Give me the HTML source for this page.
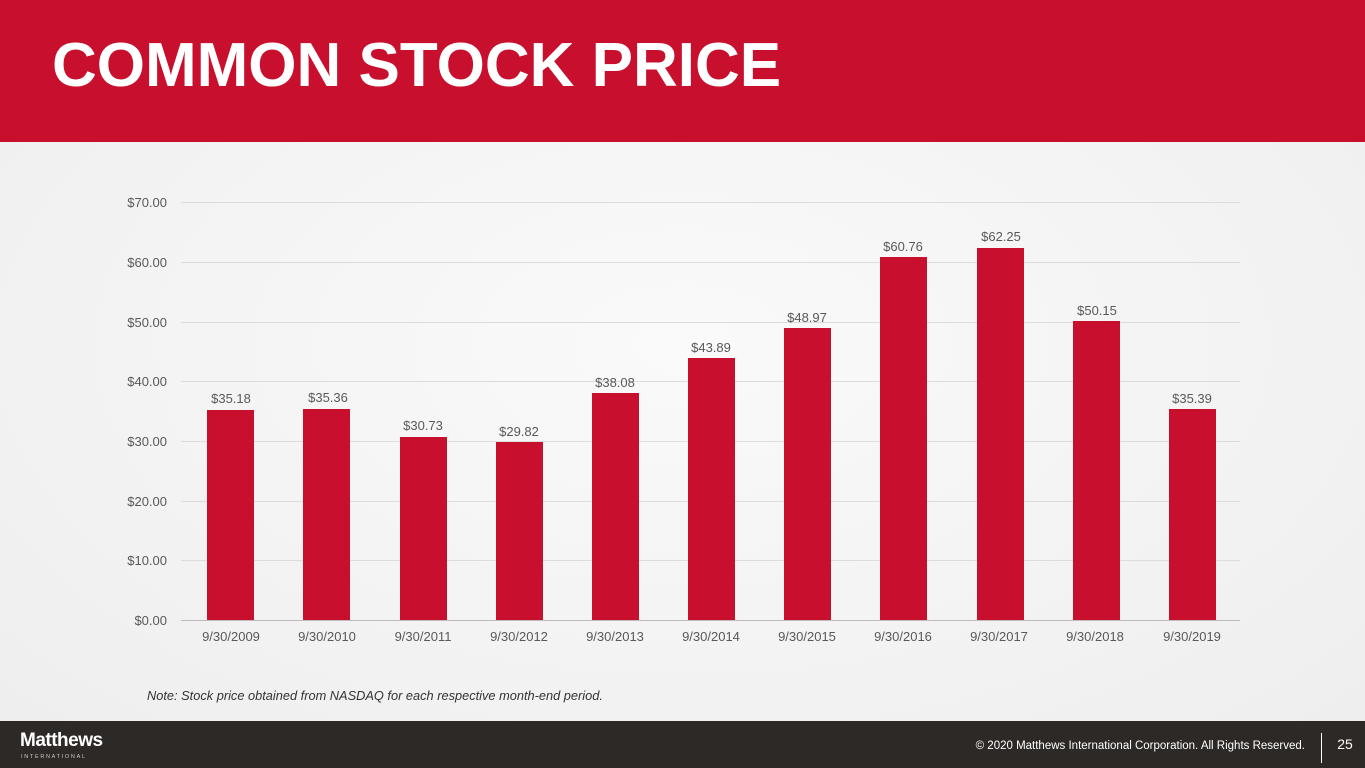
<!DOCTYPE html>
<html><head><meta charset="utf-8"><style>
html,body{margin:0;padding:0;width:1365px;height:768px;overflow:hidden;background:#f4f4f4;font-family:"Liberation Sans",Arial,sans-serif}
</style></head><body>
<svg width="1365" height="768" viewBox="0 0 1365 768" xmlns="http://www.w3.org/2000/svg" font-family="Liberation Sans, Arial, sans-serif">
<defs><radialGradient id="bg" cx="0.5" cy="0.45" r="0.7"><stop offset="0" stop-color="#fafafa"/><stop offset="1" stop-color="#eeeeee"/></radialGradient></defs>
<rect x="0" y="0" width="1365" height="768" fill="url(#bg)"/>
<rect x="0" y="0" width="1365" height="142" fill="#c8102e"/>
<text x="52" y="86" font-size="62" font-weight="bold" fill="#fff">COMMON STOCK PRICE</text>
<g stroke="#dcdcdc" stroke-width="1">
<line x1="181" x2="1240" y1="202.5" y2="202.5"/><line x1="181" x2="1240" y1="262.5" y2="262.5"/>
<line x1="181" x2="1240" y1="322.5" y2="322.5"/><line x1="181" x2="1240" y1="381.5" y2="381.5"/>
<line x1="181" x2="1240" y1="441.5" y2="441.5"/><line x1="181" x2="1240" y1="501.5" y2="501.5"/>
<line x1="181" x2="1240" y1="560.5" y2="560.5"/></g>
<line x1="181" x2="1240" y1="620.5" y2="620.5" stroke="#bbb"/>
<g font-size="13" fill="#595959" text-anchor="end">
<text x="167" y="207">$70.00</text><text x="167" y="267">$60.00</text><text x="167" y="327">$50.00</text>
<text x="167" y="386">$40.00</text><text x="167" y="446">$30.00</text><text x="167" y="506">$20.00</text>
<text x="167" y="565">$10.00</text><text x="167" y="625">$0.00</text></g>
<g fill="#c8102e">
<rect x="207" y="410" width="47" height="210"/><rect x="303" y="409" width="47" height="211"/>
<rect x="400" y="437" width="47" height="183"/><rect x="496" y="442" width="47" height="178"/>
<rect x="592" y="393" width="47" height="227"/><rect x="688" y="358" width="47" height="262"/>
<rect x="784" y="328" width="47" height="292"/><rect x="880" y="257" width="47" height="363"/>
<rect x="977" y="248" width="47" height="372"/><rect x="1073" y="321" width="47" height="299"/>
<rect x="1169" y="409" width="47" height="211"/></g>
<g font-size="13" fill="#595959" text-anchor="middle">
<text x="231" y="403">$35.18</text><text x="328" y="402">$35.36</text><text x="423" y="430">$30.73</text>
<text x="519" y="436">$29.82</text><text x="615" y="387">$38.08</text><text x="711" y="352">$43.89</text>
<text x="807" y="322">$48.97</text><text x="903" y="251">$60.76</text><text x="1001" y="241">$62.25</text>
<text x="1097" y="315">$50.15</text><text x="1192" y="403">$35.39</text></g>
<g font-size="13" fill="#595959" text-anchor="middle">
<text x="231" y="641">9/30/2009</text><text x="327" y="641">9/30/2010</text><text x="423" y="641">9/30/2011</text>
<text x="519" y="641">9/30/2012</text><text x="615" y="641">9/30/2013</text><text x="711" y="641">9/30/2014</text>
<text x="807" y="641">9/30/2015</text><text x="903" y="641">9/30/2016</text><text x="999" y="641">9/30/2017</text>
<text x="1095" y="641">9/30/2018</text><text x="1192" y="641">9/30/2019</text></g>
<text x="147" y="700" font-size="12.8" font-style="italic" fill="#333">Note: Stock price obtained from NASDAQ for each respective month-end period.</text>
<rect x="0" y="721" width="1365" height="47" fill="#2d2926"/>
<text x="20" y="746" font-size="19" font-weight="bold" fill="#fff" letter-spacing="-0.5">Matthews</text>
<text x="21" y="758" font-size="5.5" fill="#ccc" letter-spacing="1.7">INTERNATIONAL</text>
<text x="1305" y="749" font-size="11.5" fill="#fff" text-anchor="end">© 2020 Matthews International Corporation. All Rights Reserved.</text>
<line x1="1321.5" x2="1321.5" y1="733" y2="763" stroke="#fff" stroke-width="1"/>
<text x="1345" y="749" font-size="14" fill="#fff" text-anchor="middle">25</text>
</svg>
</body></html>
